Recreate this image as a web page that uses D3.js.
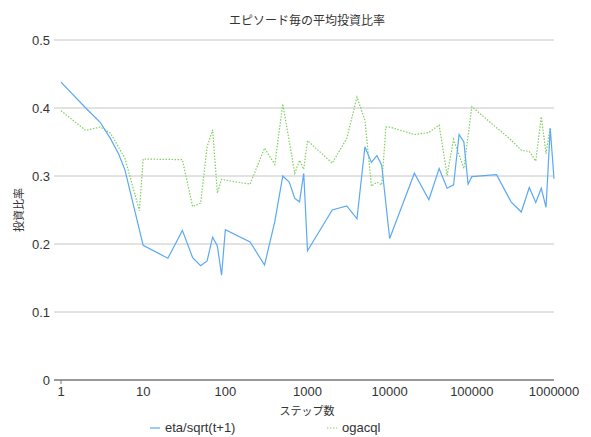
<!DOCTYPE html>
<html>
<head>
<meta charset="utf-8">
<title>エピソード毎の平均投資比率</title>
<script src="https://d3js.org/d3.v7.min.js"></script>
<style>
  body { margin: 0; background: #fff; }
  text { font-family: "Liberation Sans", "Noto Sans CJK JP", sans-serif; fill: #333; }
  .jp { font-family: "Noto Sans CJK JP", sans-serif; }
</style>
</head>
<body>
<div id="chart"></div>
<script>
// data
var blueSteps = [1, 2, 3, 4, 5, 6, 10, 20, 30, 40, 50, 60, 70, 80, 90, 100, 200, 300, 400, 500, 600, 700, 800, 900, 1000,
  2000, 3000, 4000, 5000, 6000, 7000, 8000, 10000, 20000, 30000, 40000, 50000, 60000, 70000, 80000, 90000, 100000,
  200000, 300000, 400000, 500000, 600000, 700000, 800000, 900000, 1000000];
var blueValues = [0.438, 0.400, 0.379, 0.355, 0.333, 0.309, 0.198, 0.179, 0.220, 0.180, 0.168, 0.175, 0.210, 0.197, 0.154, 0.221,
  0.203, 0.169, 0.233, 0.300, 0.291, 0.267, 0.262, 0.304, 0.190,
  0.250, 0.256, 0.237, 0.343, 0.320, 0.330, 0.316, 0.208, 0.304, 0.265, 0.311, 0.282, 0.287, 0.361, 0.350, 0.288, 0.299,
  0.302, 0.262, 0.247, 0.283, 0.261, 0.282, 0.254, 0.370, 0.296];

var greenSteps = [1, 2, 3, 4, 6, 9, 10, 30, 40, 50, 60, 70, 80, 90, 200, 300, 400, 500, 700, 800, 900, 1000,
  2000, 3000, 4000, 5000, 6000, 7000, 8000, 9000, 10000, 20000, 30000, 40000, 50000, 60000, 80000, 100000,
  200000, 300000, 400000, 500000, 600000, 700000, 800000, 900000];
var greenValues = [0.396, 0.367, 0.372, 0.363, 0.326, 0.249, 0.325, 0.324, 0.255, 0.260, 0.343, 0.368, 0.275, 0.295,
  0.288, 0.341, 0.317, 0.406, 0.304, 0.323, 0.310, 0.352,
  0.319, 0.355, 0.416, 0.382, 0.285, 0.291, 0.287, 0.372, 0.372, 0.361, 0.364, 0.375, 0.301, 0.354, 0.311, 0.402,
  0.371, 0.353, 0.338, 0.336, 0.322, 0.387, 0.333, 0.372];

var seriesNames = ["eta/sqrt(t+1)", "ogacql"];
var xTicks = [1, 10, 100, 1000, 10000, 100000, 1000000];
var yTicks = [0, 0.1, 0.2, 0.3, 0.4, 0.5];

var width = 591, height = 437;
var plotLeft = 61, plotRight = 554, plotTop = 40, plotBottom = 380;
var blue = "#5aa9f4", green = "#7fcf5c";

var svg = d3.select("#chart").append("svg")
  .attr("width", width)
  .attr("height", height);

var x = d3.scaleLog().domain([1, 1000000]).range([plotLeft, plotRight]);
var y = d3.scaleLinear().domain([0, 0.5]).range([plotBottom, plotTop]);

// grid
svg.append("g")
  .selectAll("line")
  .data(yTicks.filter(function(d) { return d > 0; }))
  .enter()
  .append("line")
  .attr("x1", plotLeft - 7)
  .attr("x2", plotRight)
  .attr("y1", function(d) { return y(d); })
  .attr("y2", function(d) { return y(d); })
  .attr("stroke", "#c6c6c6")
  .attr("stroke-width", 1);

// zero axis
svg.append("line")
  .attr("x1", plotLeft - 7).attr("x2", plotRight)
  .attr("y1", y(0)).attr("y2", y(0))
  .attr("stroke", "#777").attr("stroke-width", 1.5);
svg.append("line")
  .attr("x1", plotLeft).attr("x2", plotLeft)
  .attr("y1", y(0)).attr("y2", y(0) + 4)
  .attr("stroke", "#777").attr("stroke-width", 1);

// y tick labels
svg.append("g")
  .selectAll("text")
  .data(yTicks)
  .enter()
  .append("text")
  .attr("x", plotLeft - 11)
  .attr("y", function(d) { return y(d) + 5; })
  .attr("text-anchor", "end")
  .attr("font-size", 13)
  .text(function(d) { return d; });

// x tick labels
svg.append("g")
  .selectAll("text")
  .data(xTicks)
  .enter()
  .append("text")
  .attr("x", function(d) { return x(d); })
  .attr("y", y(0) + 16)
  .attr("text-anchor", "middle")
  .attr("font-size", 13)
  .text(function(d) { return d; });

var line = d3.line()
  .x(function(d) { return x(d[0]); })
  .y(function(d) { return y(d[1]); });

svg.append("path")
  .datum(d3.zip(greenSteps, greenValues))
  .attr("d", line)
  .attr("fill", "none")
  .attr("stroke", green)
  .attr("stroke-width", 1.2)
  .attr("stroke-dasharray", "1.5,1.5");

svg.append("path")
  .datum(d3.zip(blueSteps, blueValues))
  .attr("d", line)
  .attr("fill", "none")
  .attr("stroke", blue)
  .attr("stroke-width", 1.2);

// title and axis labels
svg.append("text")
  .attr("class", "jp")
  .attr("x", 307).attr("y", 25)
  .attr("text-anchor", "middle")
  .attr("font-size", 12)
  .text("エピソード毎の平均投資比率");

svg.append("text")
  .attr("class", "jp")
  .attr("transform", "translate(23," + y(0.25) + ") rotate(-90)")
  .attr("text-anchor", "middle")
  .attr("font-size", 11)
  .text("投資比率");

svg.append("text")
  .attr("class", "jp")
  .attr("x", 307).attr("y", 415)
  .attr("text-anchor", "middle")
  .attr("font-size", 11)
  .text("ステップ数");

// legend
var legend = svg.append("g");
var legendX = [150, 327];
var legendColors = [blue, green];
var legendDash = [null, "1.5,1.5"];
seriesNames.forEach(function(name, i) {
  legend.append("line")
    .attr("x1", legendX[i]).attr("x2", legendX[i] + 10)
    .attr("y1", 428).attr("y2", 428)
    .attr("stroke", legendColors[i])
    .attr("stroke-width", 1.2)
    .attr("stroke-dasharray", legendDash[i]);
  legend.append("text")
    .attr("x", legendX[i] + 15).attr("y", 432)
    .attr("font-size", 13)
    .text(name);
});
</script>
</body>
</html>
